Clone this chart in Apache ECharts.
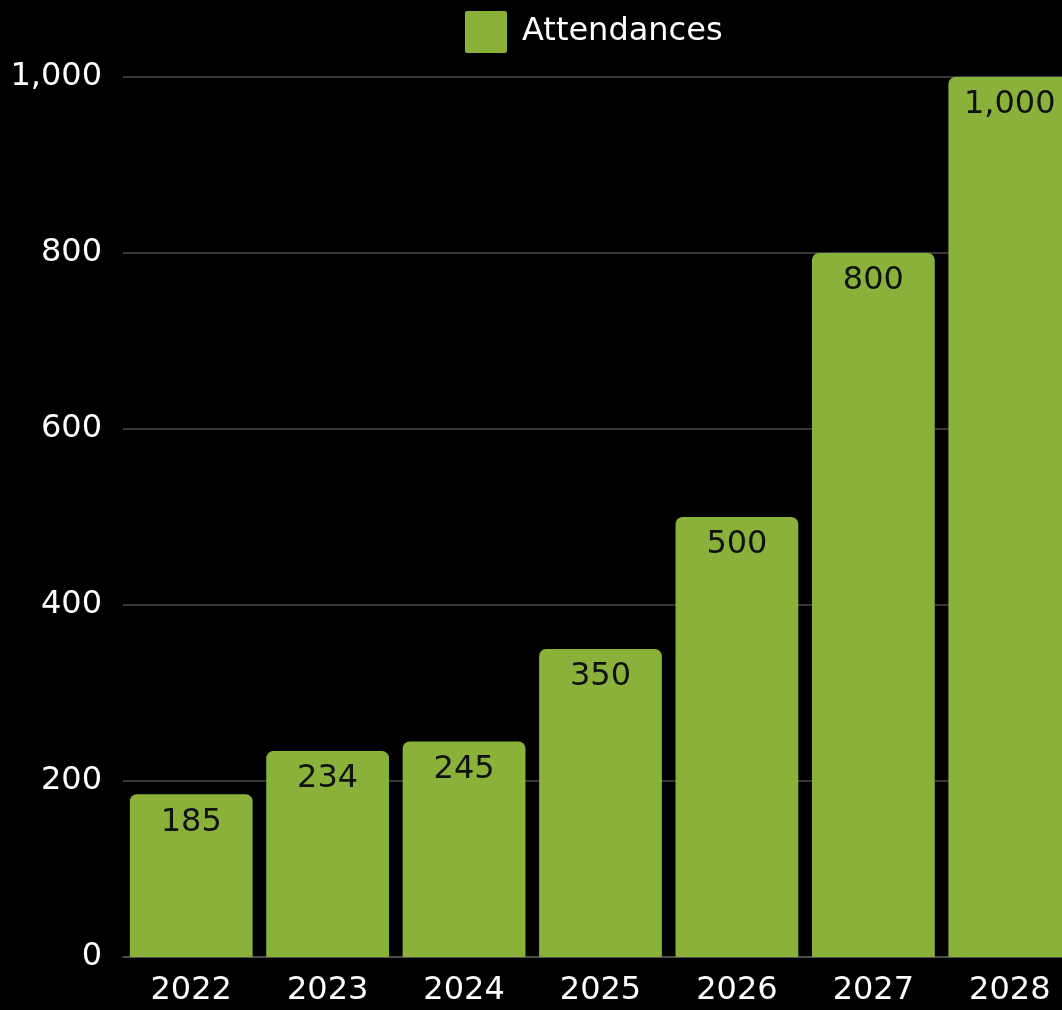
<!DOCTYPE html>
<html>
<head>
<meta charset="utf-8">
<style>
  html, body { margin: 0; padding: 0; background: #000; overflow: hidden; }
  /* canvas is a little wider than the window, so the last bar is cut off at the edge */
  #chart { width: 1090px; height: 1010px; }
</style>
<script src="https://cdn.jsdelivr.net/npm/echarts@6/dist/echarts.min.js"></script>
</head>
<body>
<div id="chart"></div>
<script>
// Yearly attendances
const years = ['2022', '2023', '2024', '2025', '2026', '2027', '2028'];
const attendances = [185, 234, 245, 350, 500, 800, 1000];
const seriesName = 'Attendances';

const FONT = '"DejaVu Sans", sans-serif';
const fmt = v => Number(v).toLocaleString('en-US');

const chart = echarts.init(document.getElementById('chart'), null, { renderer: 'canvas' });
chart.setOption({
  backgroundColor: '#000',
  animation: false,
  legend: {
    left: 460,
    top: 6,
    itemWidth: 42,
    itemHeight: 42,
    icon: 'path://M2,0 L40,0 Q42,0 42,2 L42,40 Q42,42 40,42 L2,42 Q0,42 0,40 L0,2 Q0,0 2,0 Z',
    textStyle: { color: '#fff', fontSize: 32, fontFamily: FONT, padding: [0, 0, 0, 10] },
    data: [seriesName]
  },
  grid: { left: 123, width: 955, top: 77, bottom: 53, containLabel: false },
  xAxis: {
    type: 'category',
    data: years,
    axisLine: { show: true, lineStyle: { color: '#555', width: 1.5 } },
    axisTick: { show: false },
    axisLabel: { color: '#fff', fontSize: 32, fontFamily: FONT, margin: 18 }
  },
  yAxis: {
    type: 'value',
    min: 0,
    max: 1000,
    interval: 200,
    axisLine: { show: false },
    axisTick: { show: false },
    splitLine: { lineStyle: { color: '#4a4a4a', width: 1.5 } },
    axisLabel: { color: '#fff', fontSize: 32, fontFamily: FONT, margin: 21, formatter: fmt }
  },
  series: [{
    name: seriesName,
    type: 'bar',
    data: attendances,
    barCategoryGap: '10%',
    itemStyle: { color: '#8AB13A', borderRadius: [7, 7, 0, 0] },
    label: {
      show: true,
      position: 'insideTop',
      distance: 12,
      color: '#111',
      fontSize: 32,
      fontFamily: FONT,
      formatter: p => fmt(p.value)
    }
  }]
});
</script>
</body>
</html>
